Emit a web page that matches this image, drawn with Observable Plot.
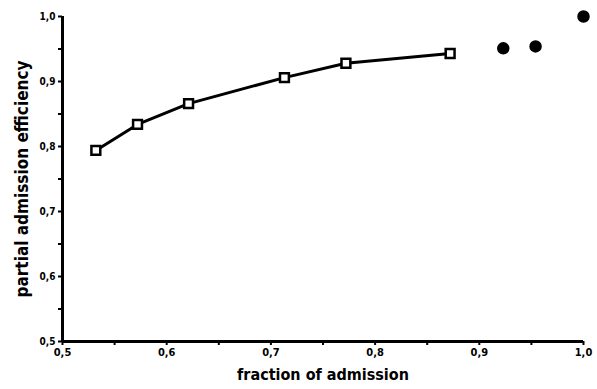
<!DOCTYPE html>
<html>
<head>
<meta charset="utf-8">
<script src="https://cdn.jsdelivr.net/npm/d3@7"></script>
<script src="https://cdn.jsdelivr.net/npm/@observablehq/plot@0.6"></script>
<style>
  html, body { margin: 0; padding: 0; background: #fff; }
  #chart svg { display: block; }
</style>
</head>
<body>
<div id="chart"></div>
<script>
const lineX = [0.532, 0.572, 0.621, 0.713, 0.772, 0.872];
const lineY = [0.794, 0.834, 0.866, 0.906, 0.928, 0.943];
const dotX = [0.923, 0.954, 1.0];
const dotY = [0.951, 0.954, 1.0];
const tickValues = [0.5, 0.55, 0.6, 0.65, 0.7, 0.75, 0.8, 0.85, 0.9, 0.95, 1.0];
const majorTicks = [0.5, 0.6, 0.7, 0.8, 0.9, 1.0];
const xLabel = "fraction of admission";
const yLabel = "partial admission efficiency";

const lineData = lineX.map((x, i) => ({x, y: lineY[i]}));
const dotData = dotX.map((x, i) => ({x, y: dotY[i]}));
const fmt = v => majorTicks.some(m => Math.abs(m - v) < 1e-9) ? v.toFixed(1).replace(".", ",") : "";

const chart = Plot.plot({
  width: 597,
  height: 389,
  marginLeft: 62,
  marginRight: 14,
  marginTop: 16,
  marginBottom: 48,
  style: {fontFamily: "'DejaVu Sans Condensed', 'DejaVu Sans', sans-serif", fontWeight: "bold", color: "#000", background: "#fff"},
  x: {domain: [0.5, 1.0]},
  y: {domain: [0.5, 1.0]},
  marks: [
    Plot.axisX({ticks: tickValues, tickFormat: fmt, tickSize: 4, tickPadding: 3, strokeWidth: 2, fontSize: 11, fontWeight: "bold", label: null}),
    Plot.axisY({ticks: tickValues, tickFormat: fmt, tickSize: 4, tickPadding: 3, strokeWidth: 2, fontSize: 10, fontWeight: "bold", label: null}),
    Plot.text([xLabel], {frameAnchor: "bottom", dy: 38, fontSize: 16, fontWeight: "bold"}),
    Plot.text([yLabel], {frameAnchor: "left", textAnchor: "middle", dx: -40, rotate: -90, fontSize: 17, fontWeight: "bold"}),
    Plot.ruleY([0.5], {stroke: "#000", strokeWidth: 3}),
    Plot.ruleX([0.5], {stroke: "#000", strokeWidth: 3}),
    Plot.line(lineData, {x: "x", y: "y", stroke: "#000", strokeWidth: 3}),
    Plot.dot(lineData, {x: "x", y: "y", symbol: "square", r: 5, fill: "#fff", stroke: "#000", strokeWidth: 2.5}),
    Plot.dot(dotData, {x: "x", y: "y", r: 5.5, fill: "#000", stroke: "#000"})
  ]
});
document.getElementById("chart").appendChild(chart);
</script>
</body>
</html>
